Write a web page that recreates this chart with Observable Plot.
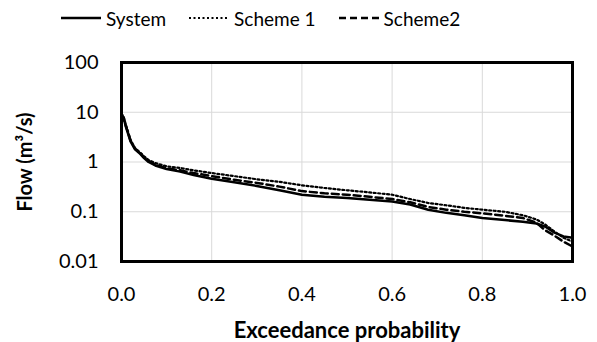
<!DOCTYPE html>
<html>
<head>
<meta charset="utf-8">
<script src="https://cdn.jsdelivr.net/npm/d3@7"></script>
<script src="https://cdn.jsdelivr.net/npm/@observablehq/plot@0.6"></script>
<style>
  html, body { margin: 0; padding: 0; background: #fff; }
  body { width: 597px; height: 342px; overflow: hidden; font-family: Lato, "Open Sans", sans-serif; }
  #legend { height: 36px; display: flex; align-items: center; padding-left: 61px; font-size: 19px; color: #000; box-sizing: border-box; }
  #legend .item { display: inline-flex; align-items: center; margin-right: 23px; }
  #legend svg { margin-right: 5px; }
  #chart svg text { font-family: Lato, "Open Sans", sans-serif; fill: #000; }
</style>
</head>
<body>
<div id="legend"></div>
<div id="chart"></div>
<script>
// Exceedance probability (shared x values)
const prob = [0, 0.005, 0.01, 0.02, 0.03, 0.04, 0.05, 0.06, 0.075, 0.1, 0.13, 0.16, 0.2, 0.25, 0.3, 0.35, 0.4, 0.45, 0.5, 0.55, 0.6, 0.64, 0.68, 0.72, 0.76, 0.8, 0.85, 0.89, 0.92, 0.94, 0.96, 0.98, 1.0];
// Flow (m3/s)
const system = [9, 7.5, 5, 2.6, 1.8, 1.5, 1.2, 1.0, 0.85, 0.72, 0.64, 0.55, 0.46, 0.39, 0.33, 0.27, 0.22, 0.2, 0.19, 0.175, 0.16, 0.14, 0.11, 0.095, 0.085, 0.075, 0.068, 0.063, 0.058, 0.05, 0.038, 0.032, 0.03];
const scheme1 = [9.5, 8, 5.5, 2.8, 1.9, 1.6, 1.3, 1.1, 0.95, 0.82, 0.76, 0.68, 0.6, 0.52, 0.45, 0.4, 0.34, 0.3, 0.27, 0.245, 0.22, 0.18, 0.15, 0.135, 0.12, 0.11, 0.1, 0.085, 0.07, 0.055, 0.04, 0.03, 0.025];
const scheme2 = [9, 7.5, 5.2, 2.7, 1.85, 1.55, 1.25, 1.05, 0.88, 0.75, 0.68, 0.6, 0.52, 0.44, 0.38, 0.32, 0.26, 0.235, 0.22, 0.2, 0.18, 0.155, 0.125, 0.11, 0.1, 0.093, 0.083, 0.075, 0.06, 0.042, 0.033, 0.025, 0.02];
const seriesNames = ["System", "Scheme 1", "Scheme2"];
const xTicks = [0, 0.2, 0.4, 0.6, 0.8, 1.0];
const yTicks = [0.01, 0.1, 1, 10, 100];
const xTitle = "Exceedance probability";
const yTitle = "Flow (m³/s)";

const styles = {
  "System": {strokeWidth: 2.5, dash: null},
  "Scheme 1": {strokeWidth: 2.2, dash: "2,2.5"},
  "Scheme2": {strokeWidth: 2.5, dash: "7,4"}
};
const seriesData = [system, scheme1, scheme2];
const rows = [];
seriesNames.forEach((name, i) => prob.forEach((p, j) => rows.push({series: name, p, flow: seriesData[i][j]})));

// Legend
const legend = document.getElementById("legend");
seriesNames.forEach(name => {
  const s = styles[name];
  const item = document.createElement("span");
  item.className = "item";
  item.innerHTML = `<svg width="40" height="10"><line x1="0" x2="40" y1="5" y2="5" stroke="#000" stroke-width="${s.strokeWidth}" ${s.dash ? `stroke-dasharray="${s.dash}"` : ""}/></svg><span>${name}</span>`;
  legend.appendChild(item);
});

const chart = Plot.plot({
  width: 597,
  height: 306,
  marginTop: 26,
  marginBottom: 81,
  marginLeft: 121,
  marginRight: 25,
  style: {fontSize: "20px", fontFamily: "Lato, sans-serif", background: "#fff"},
  x: {domain: [0, 1], ticks: xTicks, tickFormat: d3.format(".1f"), tickSize: 0, tickPadding: 25, label: null},
  y: {type: "log", domain: [0.01, 100], ticks: yTicks, tickFormat: d => String(d), tickSize: 0, tickPadding: 23, label: null},
  marks: [
    Plot.gridX(xTicks.slice(1, -1), {stroke: "#d9d9d9", strokeOpacity: 1, strokeWidth: 1}),
    Plot.gridY(yTicks.slice(1, -1), {stroke: "#d9d9d9", strokeOpacity: 1, strokeWidth: 1}),
    ...seriesNames.map(name => Plot.line(rows.filter(d => d.series === name), {
      x: "p", y: "flow", stroke: "#000", strokeWidth: styles[name].strokeWidth,
      strokeDasharray: styles[name].dash, curve: "linear"
    })),
    Plot.frame({stroke: "#000", strokeWidth: 3}),
    Plot.text([xTitle], {text: d => d, frameAnchor: "bottom", dy: 69, lineAnchor: "middle", fontWeight: "bold", fontSize: 22}),
    Plot.text([yTitle], {text: d => d, frameAnchor: "left", dx: -96, rotate: -90, textAnchor: "middle", lineAnchor: "middle", fontWeight: "bold", fontSize: 20})
  ]
});
document.getElementById("chart").appendChild(chart);
</script>
</body>
</html>
